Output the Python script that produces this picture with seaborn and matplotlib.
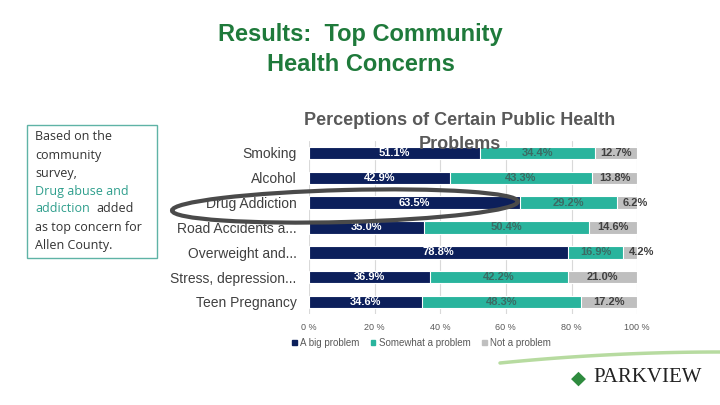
import numpy as np
import pandas as pd
import matplotlib
matplotlib.use("Agg")
import matplotlib.pyplot as plt
import seaborn as sns
from matplotlib.patches import Patch, Ellipse, Rectangle

sns.set_theme(style="white")
plt.rcParams['font.family'] = ['Liberation Sans', 'DejaVu Sans']

# data
categories = ["Smoking", "Alcohol", "Drug Addiction", "Road Accidents a...",
              "Overweight and...", "Stress, depression...", "Teen Pregnancy"]
big_problem = [51.1, 42.9, 63.5, 35.0, 78.8, 36.9, 34.6]
somewhat_problem = [34.4, 43.3, 29.2, 50.4, 16.9, 42.2, 48.3]
not_problem = [12.7, 13.8, 6.2, 14.6, 4.2, 21.0, 17.2]
x_ticks = [0, 20, 40, 60, 80, 100]
x_tick_labels = ["0 %", "20 %", "40 %", "60 %", "80 %", "100 %"]
series_names = ["A big problem", "Somewhat a problem", "Not a problem"]

NAVY = "#0c1f5b"
TEAL = "#29b49d"
GREY = "#bfbfbf"

df = pd.DataFrame({"cat": categories, "big": big_problem,
                   "some": somewhat_problem, "not": not_problem})
total = df[["big", "some", "not"]].sum(axis=1)
# 100% stacked, like the Excel chart
df["p_big"] = df["big"] / total * 100
df["p_some"] = df["some"] / total * 100
df["p_not"] = df["not"] / total * 100
df["c1"] = df["p_big"]
df["c2"] = df["p_big"] + df["p_some"]
df["c3"] = df["c2"] + df["p_not"]

fig = plt.figure(figsize=(7.2, 4.05), dpi=100)
ax = fig.add_axes([0.429, 0.2237, 0.456, 0.4292])

for col, colr in [("c3", GREY), ("c2", TEAL), ("c1", NAVY)]:
    sns.barplot(data=df, x=col, y="cat", orient="h", color=colr, width=0.5,
                edgecolor="white", linewidth=0.8, saturation=1, ax=ax, zorder=3)

ax.set_xlim(0, 100)
ax.set_ylim(len(categories) - 0.5, -0.5)
ax.set_xticks(x_ticks)
ax.set_xticklabels(x_tick_labels, fontsize=6.5, color="#595959")
ax.set_xlabel("")
ax.set_ylabel("")
ax.tick_params(axis="y", length=0, pad=9, labelsize=10, labelcolor="#404040")
ax.tick_params(axis="x", length=0, pad=6)
ax.grid(axis="x", color="#d9d9d9", lw=0.8, zorder=0)
for s in ax.spines.values():
    s.set_visible(False)

# segment labels
for i, r in df.iterrows():
    ax.text(r["p_big"] / 2, i, f"{r['big']:.1f}%", ha="center", va="center",
            fontsize=8, fontweight="bold", color="white", zorder=5)
    ax.text(r["c1"] + r["p_some"] / 2, i, f"{r['some']:.1f}%", ha="center",
            va="center", fontsize=8, fontweight="bold", color="#3b6a63", zorder=5)
    if r["p_not"] < 8:
        ax.text(r["c2"] + 1.7, i, f"{r['not']:.1f}%", ha="left", va="center",
                fontsize=8, fontweight="bold", color="#404040", zorder=5)
    else:
        ax.text(r["c2"] + r["p_not"] / 2, i, f"{r['not']:.1f}%", ha="center",
                va="center", fontsize=8, fontweight="bold", color="#404040", zorder=5)

handles = [Patch(color=c) for c in [NAVY, TEAL, GREY]]
fig.legend(handles, series_names, loc="center left", bbox_to_anchor=(0.393, 0.153),
           ncol=3, frameon=False, fontsize=7, handlelength=0.5, handleheight=0.5,
           handletextpad=0.4, columnspacing=1.1, labelcolor="#595959")

# titles
fig.text(0.501, 0.878, "Results:  Top Community\nHealth Concerns", ha="center",
         va="center", fontsize=17, fontweight="bold", color="#1f7a3b", linespacing=1.4)
fig.text(0.639, 0.672, "Perceptions of Certain Public Health\nProblems", ha="center",
         va="center", fontsize=13, fontweight="bold", color="#595959", linespacing=1.55)

# overlay in pixel coords for the slide decorations
ov = fig.add_axes([0, 0, 1, 1], zorder=10)
ov.set_xlim(0, 720)
ov.set_ylim(405, 0)
ov.axis("off")
ov.patch.set_alpha(0)

ov.add_patch(Rectangle((27, 125), 130, 133, fill=False, ec="#5fb3a6", lw=1))
box_font = ['Open Sans', 'DejaVu Sans']
dark = "#333333"
tealtxt = "#2e9e8c"
lines = [("Based on the", dark), ("community", dark), ("survey,", dark),
         ("Drug abuse and", tealtxt), ("addiction", tealtxt),
         ("as top concern for", dark), ("Allen County.", dark)]
ys = [137, 155, 173, 191, 209, 227, 245]
for (t, c), y in zip(lines, ys):
    ov.text(35, y, t, fontsize=9, color=c, family=box_font, va="center", ha="left")
ov.text(96.5, 209, "added", fontsize=9, color=dark, family=box_font, va="center", ha="left")

ov.add_patch(Ellipse((345, 206), 346, 32, angle=-1.5, fill=False, ec="#4a4a4a", lw=3))

# bottom-right swoosh and logo
xs = np.linspace(500, 720, 60)
ov.plot(xs, 352 + 11 * ((720 - xs) / 220) ** 2, color="#b7dba0", lw=2.5,
        solid_capstyle="round")
ov.text(578, 378, "\u25C6", fontsize=14, color="#2e8b3e", ha="center", va="center",
        family=['DejaVu Sans'])
ov.text(593, 378, "PARKVIEW", fontsize=15, color="#222222", ha="left", va="center",
        family=['Liberation Serif', 'DejaVu Serif'])

fig.savefig("out.png", dpi=100)
